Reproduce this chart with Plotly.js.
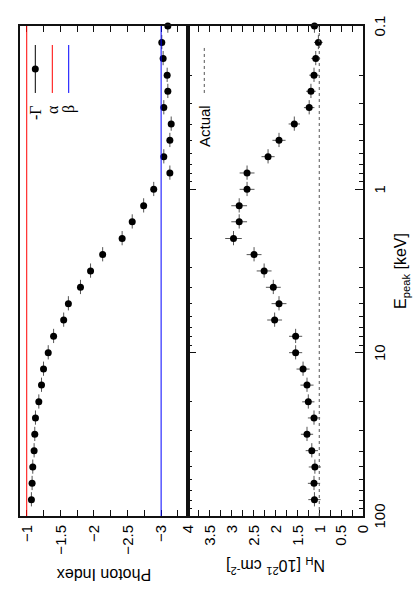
<!DOCTYPE html>
<html><head><meta charset="utf-8">
<script src="https://cdn.plot.ly/plotly-3.0.1.min.js"></script>
<style>
html,body{margin:0;padding:0;overflow:hidden;background:#fff;width:415px;height:592px;}
#wrap{position:absolute;left:0;top:592px;width:592px;height:415px;transform:rotate(-90deg);transform-origin:0 0;}
</style></head><body>
<div id="wrap"><div id="chart" style="width:592px;height:415px"></div></div>
<script>
// E_peak [keV]
const energies = [0.1, 0.126, 0.158, 0.2, 0.251, 0.316, 0.398, 0.501, 0.631, 0.794,
                  1, 1.26, 1.58, 2.0, 2.51, 3.16, 3.98, 5.01, 6.31, 7.94,
                  10, 12.6, 15.8, 20.0, 25.1, 31.6, 39.8, 50.1, 63.1, 79.4];
const energyErrPercent = 10;
// -Gamma (photon index)
const photonIndex = [-3.10, -3.01, -3.03, -3.09, -3.10, -3.04, -3.15, -3.13, -3.04, -3.13,
                     -2.89, -2.74, -2.57, -2.42, -2.13, -1.95, -1.80, -1.62, -1.55, -1.40,
                     -1.32, -1.25, -1.22, -1.18, -1.13, -1.12, -1.11, -1.09, -1.08, -1.07];
// N_H [10^21 cm^-2]
const nh = [1.11, 1.02, 1.08, 1.12, 1.19, 1.23, 1.57, 1.92, 2.17, 2.65,
            2.65, 2.83, 2.83, 2.96, 2.49, 2.26, 2.05, 1.92, 2.02, 1.54,
            1.54, 1.37, 1.28, 1.25, 1.12, 1.28, 1.17, 1.10, 1.12, 1.11];
const nhErr = [0.10, 0.10, 0.10, 0.11, 0.11, 0.12, 0.13, 0.15, 0.15, 0.17,
               0.17, 0.18, 0.18, 0.19, 0.17, 0.17, 0.17, 0.17, 0.17, 0.15,
               0.15, 0.15, 0.15, 0.14, 0.14, 0.14, 0.14, 0.14, 0.14, 0.14];
const alphaIndex = -1;
const betaIndex = -3;
const actualNH = 1;
const legendLabels = ['-Γ', 'α', 'β'];
const actualLabel = 'Actual';

const FONT = '"Liberation Sans", Arial, Helvetica, sans-serif';
const SERIF = '"Liberation Serif", "DejaVu Serif", serif';
const errStyle = {color: '#555', thickness: 1, width: 0};

const traces = [
  {x: energies, y: photonIndex, xaxis: 'x2', yaxis: 'y', type: 'scatter', mode: 'markers',
   marker: {color: '#000', size: 7}, cliponaxis: false, showlegend: false,
   error_x: Object.assign({type: 'percent', value: energyErrPercent}, errStyle)},
  {x: energies, y: nh, xaxis: 'x', yaxis: 'y2', type: 'scatter', mode: 'markers',
   marker: {color: '#000', size: 7}, cliponaxis: false, showlegend: false,
   error_x: Object.assign({type: 'percent', value: energyErrPercent}, errStyle),
   error_y: Object.assign({type: 'data', array: nhErr}, errStyle)}
];

const split = 175 / 343;
const yCommon = {
  showline: true, linewidth: 2, linecolor: '#111', mirror: 'ticks',
  ticks: 'inside', ticklen: 6, tickwidth: 1, tickcolor: '#111',
  dtick: 0.5, tick0: 0, showgrid: false, zeroline: false,
  minor: {ticks: 'inside', ticklen: 6, dtick: 0.25, tickcolor: '#111', showgrid: false},
  tickfont: {family: FONT, size: 15, color: '#000'},
  ticklabelstandoff: 4
};

const layout = {
  width: 592, height: 415,
  margin: {l: 76, r: 26, t: 20, b: 52},
  paper_bgcolor: '#fff', plot_bgcolor: '#fff',
  font: {family: FONT, color: '#000'},
  showlegend: false,
  xaxis: {
    type: 'log', range: [2, -1], anchor: 'y2', domain: [0, 1],
    showline: true, linewidth: 2, linecolor: '#111', mirror: 'ticks',
    ticks: 'inside', ticklen: 8, tickwidth: 1, tickcolor: '#111',
    dtick: 1, showgrid: false, zeroline: false,
    minor: {ticks: 'inside', ticklen: 4, dtick: 'D1', tickcolor: '#111', showgrid: false},
    tickfont: {family: FONT, size: 15, color: '#000'},
    ticklabelstandoff: 2,
    title: {text: 'E<sub>peak</sub> [keV]', font: {family: FONT, size: 16}, standoff: 8}
  },
  xaxis2: {
    type: 'log', matches: 'x', anchor: 'y', domain: [0, 1],
    showline: true, linewidth: 2, linecolor: '#111', mirror: true,
    ticks: '', showticklabels: false, showgrid: false, zeroline: false
  },
  yaxis: Object.assign({}, yCommon, {
    domain: [split, 1], range: [-3.4, -0.9], anchor: 'x2',
    title: {text: 'Photon Index', font: {family: FONT, size: 16}, standoff: 10}
  }),
  yaxis2: Object.assign({}, yCommon, {
    domain: [0, split], range: [0, 4], anchor: 'x',
    title: {text: 'N<sub>H</sub> [10<sup>21</sup> cm<sup>-2</sup>]', font: {family: FONT, size: 16}, standoff: 10}
  }),
  shapes: [
    {type: 'line', xref: 'x2 domain', yref: 'y', x0: 0, x1: 1, y0: alphaIndex, y1: alphaIndex,
     line: {color: '#ff0000', width: 1}},
    {type: 'line', xref: 'x2 domain', yref: 'y', x0: 0, x1: 1, y0: betaIndex, y1: betaIndex,
     line: {color: '#0000ff', width: 1}},
    {type: 'line', xref: 'x domain', yref: 'y2', x0: 0, x1: 1, y0: actualNH, y1: actualNH,
     line: {color: '#555', width: 1, dash: 'dot'}},
    // legend samples
    {type: 'line', xref: 'paper', yref: 'paper', x0: 0.8633, x1: 0.9612, y0: 0.9554, y1: 0.9554,
     line: {color: '#000', width: 1}},
    {type: 'circle', xref: 'paper', yref: 'paper', xsizemode: 'pixel', ysizemode: 'pixel',
     xanchor: 0.9122, yanchor: 0.9554, x0: -3.5, x1: 3.5, y0: -3.5, y1: 3.5,
     fillcolor: '#000', line: {width: 0}},
    {type: 'line', xref: 'paper', yref: 'paper', x0: 0.8633, x1: 0.9612, y0: 0.9058, y1: 0.9058,
     line: {color: '#ff0000', width: 1}},
    {type: 'line', xref: 'paper', yref: 'paper', x0: 0.8633, x1: 0.9612, y0: 0.8580, y1: 0.8580,
     line: {color: '#0000ff', width: 1}},
    {type: 'line', xref: 'paper', yref: 'paper', x0: 0.8633, x1: 0.9612, y0: 0.4627, y1: 0.4627,
     line: {color: '#555', width: 1, dash: 'dot'}}
  ],
  annotations: [
    {text: legendLabels[0], xref: 'paper', yref: 'paper', x: 0.843, y: 0.9554,
     xanchor: 'right', yanchor: 'middle', showarrow: false, font: {family: SERIF, size: 16}},
    {text: legendLabels[1], xref: 'paper', yref: 'paper', x: 0.843, y: 0.9058,
     xanchor: 'right', yanchor: 'middle', showarrow: false, font: {family: SERIF, size: 16}},
    {text: legendLabels[2], xref: 'paper', yref: 'paper', x: 0.843, y: 0.8580,
     xanchor: 'right', yanchor: 'middle', showarrow: false, font: {family: SERIF, size: 16}},
    {text: actualLabel, xref: 'paper', yref: 'paper', x: 0.843, y: 0.4627,
     xanchor: 'right', yanchor: 'middle', showarrow: false, font: {family: FONT, size: 15}}
  ]
};

Plotly.newPlot('chart', traces, layout, {staticPlot: true, displayModeBar: false});
</script>
</body></html>
